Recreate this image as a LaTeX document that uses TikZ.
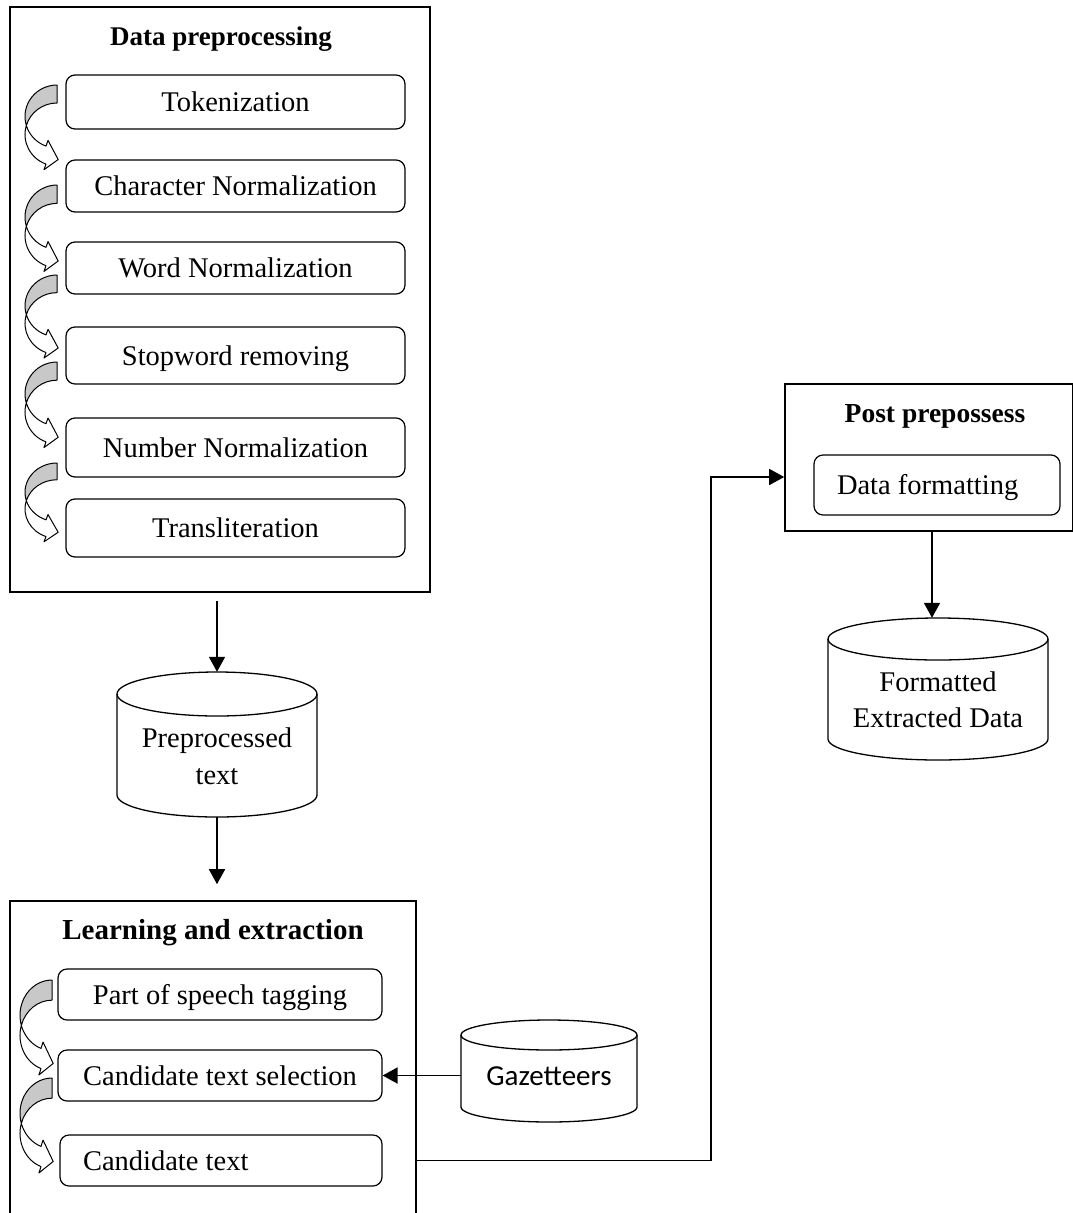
\documentclass[tikz,border=0pt]{standalone}
\usepackage{fontspec}
\setmainfont{LiberationSerif}[Extension=.ttf, UprightFont=*-Regular, BoldFont=*-Bold, ItalicFont=*-Italic, BoldItalicFont=*-BoldItalic]
\newfontfamily\calibfont{Carlito}
\usetikzlibrary{arrows.meta}
\definecolor{bandgray}{RGB}{200,200,200}
\tikzset{
  bigbox/.style={draw, line width=1.6pt, inner sep=0pt},
  stepbox/.style={draw, rounded corners=9pt, line width=1.2pt, inner sep=0pt,
    font=\rmfamily\fontsize{28.5}{34}\selectfont, text height=19pt, text depth=0pt},
  leftstep/.style={stepbox, align=flush left, inner xsep=23pt},
  boxtitle/.style={font=\rmfamily\bfseries\fontsize{27}{32}\selectfont, inner sep=0pt, anchor=base},
  cyltext/.style={font=\rmfamily\fontsize{28.5}{37}\selectfont, align=center, inner sep=0pt},
  flow/.style={line width=1.8pt, -{Triangle[length=15pt,width=16pt]}},
  conn/.style={line width=1.6pt, -{Triangle[length=15pt,width=16pt]}},
  cylline/.style={line width=1.3pt},
}
\newcommand{\curvarr}[3]{%
  \begin{scope}[shift={(#1,-#2)}, yscale=#3, line width=1pt, line join=round]
    \filldraw[fill=bandgray] (0,0) arc[start angle=90, end angle=196.6, x radius=32, y radius=31.5]
      arc[start angle=163.4, end angle=90, x radius=32, y radius=31.5] -- cycle;
    \filldraw[fill=white] (-30.67,-40.5) arc[start angle=163.4, end angle=249.9, x radius=32, y radius=31.5]
      -- (-13.03,-84.72) -- (1.2,-74.5) -- (-8.97,-55.44) -- (-11,-61.08)
      arc[start angle=249.9, end angle=196.6, x radius=32, y radius=31.5] -- cycle;
  \end{scope}}
\newcommand{\cylshape}[5]{%
  \filldraw[cylline, fill=white] (#1-#2,-#3) -- (#1-#2,-#4)
    arc[start angle=180, end angle=360, x radius=#2, y radius=#5] -- (#1+#2,-#3)
    arc[start angle=0, end angle=180, x radius=#2, y radius=#5] -- cycle;
  \draw[cylline] (#1-#2,-#3) arc[start angle=180, end angle=360, x radius=#2, y radius=#5];}
\begin{document}
\begin{tikzpicture}[x=1pt, y=1pt]
\useasboundingbox (0,0) rectangle (1073,-1213);

% Data preprocessing block
\node[bigbox, minimum width=420pt, minimum height=585pt] (dp) at (220,-299.5) {};
\node[boxtitle] (dpt) at (221,-45) {Data preprocessing};
\node[stepbox, minimum width=339pt, minimum height=54pt] (tok) at (235.5,-102) {Tokenization};
\node[stepbox, minimum width=339pt, minimum height=52pt] (cn) at (235.5,-186) {Character Normalization};
\node[stepbox, minimum width=339pt, minimum height=52pt] (wn) at (235.5,-268) {Word Normalization};
\node[stepbox, minimum width=339pt, minimum height=57pt] (sw) at (235.5,-355.5) {Stopword removing};
\node[stepbox, minimum width=339pt, minimum height=59pt] (nn) at (235.5,-447.5) {Number Normalization};
\node[stepbox, minimum width=339pt, minimum height=58pt] (tr) at (235.5,-528) {Transliteration};
\curvarr{57}{85}{1}
\curvarr{57}{185}{1.02}
\curvarr{57}{275}{0.98}
\curvarr{57}{362}{1.01}
\curvarr{57}{463}{0.93}

% Preprocessed text
\cylshape{217}{100}{694}{795}{22}
\node[minimum width=200pt, minimum height=145pt, inner sep=0pt] (pre) at (217,-744.5) {};
\node[cyltext] (pret) at (217,-756) {Preprocessed\\text};

% Learning and extraction block
\node[bigbox, minimum width=406pt, minimum height=319pt] (lrn) at (213,-1060.5) {};
\node[boxtitle, font=\rmfamily\bfseries\fontsize{29}{34}\selectfont] (lrnt) at (213,-939) {Learning and extraction};
\node[stepbox, minimum width=324pt, minimum height=51pt] (pos) at (220,-994.5) {Part of speech tagging};
\node[stepbox, minimum width=324pt, minimum height=51pt] (cts) at (220,-1075.5) {Candidate text selection};
\node[leftstep, text width=276pt, minimum height=51pt] (ct) at (221,-1160.5) {Candidate text};
\curvarr{52}{980}{1.12}
\curvarr{52}{1078}{1.12}

% Gazetteers
\cylshape{549}{88}{1035}{1107}{15}
\node[minimum width=176pt, minimum height=102pt, inner sep=0pt] (gaz) at (549,-1071) {};
\node[inner sep=0pt, font=\calibfont\fontsize{29}{34}\selectfont] (gazt) at (549,-1076) {Gazetteers};

% Post prepossess block
\node[bigbox, minimum width=288pt, minimum height=147pt] (post) at (929,-457.5) {};
\node[boxtitle, font=\rmfamily\bfseries\fontsize{27.5}{32}\selectfont] (postt) at (935,-422) {Post prepossess};
\node[leftstep, text width=200pt, minimum height=60pt] (df) at (937,-485) {Data formatting};

% Formatted Extracted Data
\cylshape{938}{110}{639}{739}{21}
\node[minimum width=220pt, minimum height=142pt, inner sep=0pt] (fed) at (938,-689) {};
\node[cyltext, font=\rmfamily\fontsize{28.5}{36}\selectfont] (fedt) at (938,-700) {Formatted\\Extracted Data};

% Connectors
\draw[flow, shorten <=8pt] (pre.north |- dp.south) -- (pre.north);
\draw[flow, shorten >=16pt] (pre.south) -- (pre.south |- lrn.north);
\draw[flow] (gaz.west |- cts.east) -- (cts.east);
\coordinate (bend) at (711,-1160.5);
\draw[conn] (ct.east -| lrn.east) -- (bend) |- ([yshift=-19.5pt]post.west);
\draw[flow] ([xshift=-6pt]fed.north |- post.south) -- ([xshift=-6pt]fed.north);
\end{tikzpicture}
\end{document}
